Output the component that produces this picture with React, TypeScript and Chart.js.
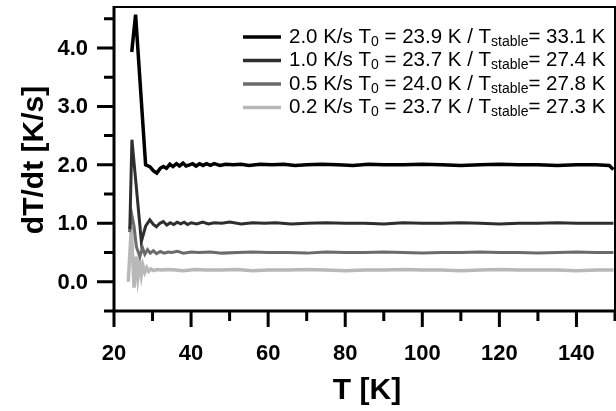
import React, { useEffect, useRef } from "react";
import { Chart, registerables } from "chart.js";

Chart.register(...registerables);

// ---- Data ----
const T_20 = [24.6, 25.6, 28.2, 29.3, 30.2, 31.1, 32.0, 32.8, 33.6, 34.5, 35.3, 36.2, 37.0, 37.9, 38.7, 39.6, 40.4, 41.3, 42.2, 43.1, 44.0, 45.0, 46.0, 47.5, 49, 51, 53, 55, 58, 61, 64, 67, 70, 74, 78, 82, 86, 90, 95, 100, 105, 110, 115, 120, 125, 130, 135, 140, 145, 148.5, 149.6];
const V_20 = [3.93, 4.57, 2.0, 1.97, 1.9, 1.86, 1.94, 1.97, 1.94, 2.01, 1.97, 2.02, 1.98, 2.03, 1.98, 2.0, 2.02, 1.98, 2.02, 1.99, 2.02, 1.99, 2.02, 1.99, 2.01, 2.0, 2.01, 1.99, 2.01, 2.0, 2.01, 1.99, 2.0, 2.01, 2.0, 1.99, 2.01, 2.0, 2.0, 2.01, 2.0, 1.99, 2.0, 2.01, 2.0, 2.0, 1.99, 2.0, 2.0, 1.99, 1.92];

const T_10 = [24.1, 24.65, 27.1, 28.2, 29.3, 30.2, 31.0, 31.9, 32.8, 33.7, 34.6, 35.5, 36.4, 37.3, 38.2, 39.1, 40, 41.5, 43, 44.5, 46, 48, 50, 53, 56, 59, 62, 66, 70, 75, 80, 85, 90, 95, 100, 105, 110, 115, 120, 125, 130, 135, 140, 145, 149.6];
const V_10 = [0.9, 2.43, 0.69, 0.95, 1.06, 0.98, 0.94, 1.0, 1.03, 0.97, 1.01, 0.98, 1.02, 0.99, 1.02, 0.98, 1.01, 0.99, 1.02, 0.99, 1.01, 1.0, 1.02, 0.99, 1.01, 1.0, 1.01, 0.99, 1.0, 1.01, 1.0, 1.0, 0.99, 1.01, 1.0, 1.0, 1.01, 1.0, 0.99, 1.0, 1.0, 1.01, 1.0, 1.0, 1.0];

const T_05 = [24.0, 24.6, 25.2, 25.8, 26.7, 27.4, 28.0, 28.7, 29.4, 30.2, 31, 32, 33, 34, 35, 36.5, 38, 40, 42, 45, 48, 52, 56, 60, 65, 70, 75, 80, 85, 90, 95, 100, 105, 110, 115, 120, 125, 130, 135, 140, 145, 149.6];
const V_05 = [0.85, 1.15, 0.95, 0.6, 0.43, 0.58, 0.47, 0.55, 0.49, 0.53, 0.48, 0.52, 0.49, 0.51, 0.5, 0.52, 0.49, 0.51, 0.5, 0.51, 0.49, 0.5, 0.51, 0.5, 0.5, 0.49, 0.51, 0.5, 0.5, 0.51, 0.5, 0.49, 0.5, 0.5, 0.51, 0.5, 0.5, 0.49, 0.5, 0.51, 0.5, 0.5];

const T_02 = [23.7, 24.5, 25.2, 25.8, 26.2, 26.7, 27.1, 27.5, 28.0, 28.5, 29.0, 29.6, 30.3, 31.2, 32.5, 34, 36, 38, 41, 44, 48, 52, 56, 60, 65, 70, 75, 80, 85, 90, 95, 100, 105, 110, 115, 120, 125, 130, 135, 140, 145, 149.6];
const V_02 = [0.0, 0.95, -0.1, 0.43, 0.08, 0.33, 0.12, 0.28, 0.16, 0.24, 0.18, 0.22, 0.19, 0.21, 0.2, 0.21, 0.2, 0.19, 0.21, 0.2, 0.2, 0.21, 0.19, 0.2, 0.2, 0.21, 0.2, 0.19, 0.2, 0.2, 0.21, 0.2, 0.2, 0.19, 0.2, 0.21, 0.2, 0.2, 0.2, 0.19, 0.2, 0.2];

const RATES = ["2.0", "1.0", "0.5", "0.2"];
const T0S = ["23.9", "23.7", "24.0", "23.7"];
const TSTABLE = ["33.1", "27.4", "27.8", "27.3"];
const COLORS = ["#000000", "#2e2e2e", "#6b6b6b", "#b8b8b8"];

const X_MAJOR = [20, 40, 60, 80, 100, 120, 140];
const X_MINOR = [30, 50, 70, 90, 110, 130, 150];
const Y_MAJOR = [0, 1, 2, 3, 4];
const Y_MINOR = [-0.5, 0.5, 1.5, 2.5, 3.5, 4.5];

const FONT = "'Liberation Sans', Arial, sans-serif";

const toPts = (xs: number[], ys: number[]) => xs.map((x, i) => ({ x, y: ys[i] }));

const framePlugin = {
  id: "frame",
  afterDraw(chart: any) {
    const { ctx, chartArea: a, scales } = chart;
    const xs = scales.x, ys = scales.y;
    ctx.save();
    ctx.strokeStyle = "#000";
    ctx.lineCap = "butt";
    // top & right
    ctx.lineWidth = 2;
    ctx.beginPath();
    ctx.moveTo(a.left, a.top);
    ctx.lineTo(a.right, a.top);
    ctx.lineTo(a.right, a.bottom);
    ctx.stroke();
    // left & bottom axes
    ctx.lineWidth = 3;
    ctx.beginPath();
    ctx.moveTo(a.left, a.top - 1);
    ctx.lineTo(a.left, a.bottom + 1.5);
    ctx.moveTo(a.left - 1.5, a.bottom);
    ctx.lineTo(a.right, a.bottom);
    ctx.stroke();
    // ticks
    ctx.lineWidth = 3;
    ctx.beginPath();
    Y_MAJOR.forEach((v) => {
      const p = ys.getPixelForValue(v);
      ctx.moveTo(a.left - 17, p);
      ctx.lineTo(a.left, p);
    });
    Y_MINOR.forEach((v) => {
      const p = ys.getPixelForValue(v);
      ctx.moveTo(a.left - 10, p);
      ctx.lineTo(a.left, p);
    });
    X_MAJOR.forEach((v) => {
      const p = xs.getPixelForValue(v);
      ctx.moveTo(p, a.bottom);
      ctx.lineTo(p, a.bottom + 16);
    });
    X_MINOR.forEach((v) => {
      const p = xs.getPixelForValue(v);
      if (p > a.right) return;
      ctx.moveTo(p, a.bottom);
      ctx.lineTo(p, a.bottom + 10);
    });
    ctx.stroke();

    // tick labels
    ctx.fillStyle = "#000";
    ctx.font = `bold 22px ${FONT}`;
    ctx.textAlign = "right";
    ctx.textBaseline = "middle";
    Y_MAJOR.forEach((v) => {
      ctx.fillText(v.toFixed(1), a.left - 26, ys.getPixelForValue(v) + 1);
    });
    ctx.textAlign = "center";
    X_MAJOR.forEach((v) => {
      ctx.fillText(String(v), xs.getPixelForValue(v), a.bottom + 43);
    });

    // axis titles
    ctx.font = `bold 30px ${FONT}`;
    ctx.fillText("T [K]", 367, 391);
    ctx.save();
    ctx.translate(35, 160);
    ctx.rotate(-Math.PI / 2);
    ctx.fillText("dT/dt [K/s]", 0, 0);
    ctx.restore();

    // legend
    const lx0 = 243, lx1 = 281, tx = 289;
    const rowY = [37, 60.5, 84, 107.5];
    const main = `20.5px ${FONT}`;
    const sub = `14px ${FONT}`;
    ctx.textAlign = "left";
    ctx.textBaseline = "middle";
    RATES.forEach((r, i) => {
      const y = rowY[i];
      ctx.strokeStyle = COLORS[i];
      ctx.lineWidth = 3.5;
      ctx.beginPath();
      ctx.moveTo(lx0, y);
      ctx.lineTo(lx1, y);
      ctx.stroke();
      ctx.fillStyle = "#000";
      let x = tx;
      const put = (s: string, f: string, dy: number) => {
        ctx.font = f;
        ctx.fillText(s, x, y + dy);
        x += ctx.measureText(s).width;
      };
      put(`${r} K/s T`, main, 0);
      put("0", sub, 5);
      put(` = ${T0S[i]} K / T`, main, 0);
      put("stable", sub, 5);
      put(`= ${TSTABLE[i]} K`, main, 0);
    });
    ctx.restore();
  },
};

export default function App() {
  const ref = useRef<HTMLCanvasElement>(null);
  useEffect(() => {
    document.body.style.margin = "0";
    const series = [
      toPts(T_20, V_20),
      toPts(T_10, V_10),
      toPts(T_05, V_05),
      toPts(T_02, V_02),
    ];
    const chart = new Chart(ref.current!, {
      type: "line",
      data: {
        datasets: series.map((d, i) => ({
          label: RATES[i],
          data: d,
          borderColor: COLORS[i],
          borderWidth: i === 0 ? 3.5 : i === 3 ? 3.5 : 3,
          pointRadius: 0,
          tension: 0,
          fill: false,
        })),
      },
      options: {
        animation: false,
        responsive: false,
        maintainAspectRatio: false,
        layout: { padding: { left: 0, right: 1, top: 7, bottom: 0 } },
        plugins: { legend: { display: false }, tooltip: { enabled: false } },
        scales: {
          x: {
            type: "linear",
            min: 20,
            max: 150,
            grid: { display: false },
            border: { display: false },
            ticks: { display: false },
            afterFit: (s: any) => { s.height = 100; },
          },
          y: {
            type: "linear",
            min: -0.5,
            max: 4.7,
            grid: { display: false },
            border: { display: false },
            ticks: { display: false },
            afterFit: (s: any) => { s.width = 114; },
          },
        },
      },
      plugins: [framePlugin],
    });
    return () => chart.destroy();
  }, []);
  return (
    <div style={{ width: 616, height: 411 }}>
      <canvas ref={ref} width={616} height={411} style={{ display: "block" }} />
    </div>
  );
}
